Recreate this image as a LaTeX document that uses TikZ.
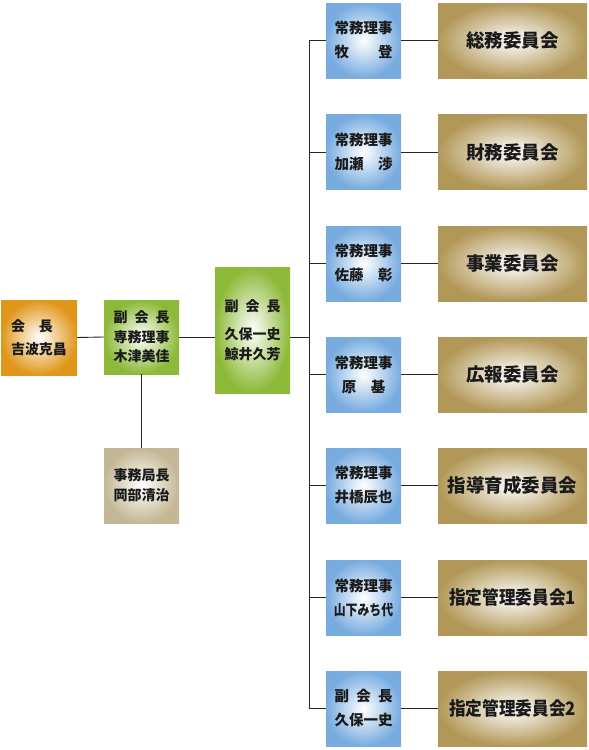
\documentclass[tikz,border=0pt]{standalone}
\usepackage{fontspec}
\setmainfont{Noto Sans CJK JP}
\definecolor{cOrange}{HTML}{E0961A}
\definecolor{cGreen}{HTML}{8CB937}
\definecolor{cBlue}{HTML}{78ACE0}
\definecolor{cGold}{HTML}{B29858}
\definecolor{cTan}{HTML}{C3B795}
\definecolor{cText}{HTML}{1A1A1A}
\begin{document}
\begin{tikzpicture}[x=1pt,y=-1pt,
  box/.style={shade, inner color=white, inner sep=0pt, text=cText, align=center, font=\bfseries},
  sq/.style={box, minimum width=75pt, minimum height=75pt},
  bluebox/.style={sq, outer color=cBlue, font=\bfseries\fontsize{14.5}{24}\selectfont},
  goldbox/.style={box, outer color=cGold, minimum width=149pt, minimum height=75pt, font=\bfseries\fontsize{18.5}{22}\selectfont},
  conn/.style={line width=0.9pt, draw=black!85}]
\useasboundingbox (0,0) rectangle (589,750);

\node[sq, minimum width=76pt, outer color=cOrange, font=\bfseries\fontsize{14}{23}\selectfont] (kaicho) at (39,337.5)
  {\makebox[4em][l]{会　長}\\吉波克昌};
\node[sq, minimum height=74pt, outer color=cGreen, font=\bfseries\fontsize{14}{19.5}\selectfont] (fuku1) at (141.5,337)
  {副\hspace{0.5em}会\hspace{0.5em}長\\専務理事\\木津美佳};
\node[sq, minimum height=126pt, outer color=cGreen, font=\bfseries\fontsize{14}{20}\selectfont] (fuku2) at (252.5,330)
  {副\hspace{0.5em}会\hspace{0.5em}長\\[8pt]久保一史\\鯨井久芳};
\node[sq, outer color=cTan, font=\bfseries\fontsize{14}{20}\selectfont] (jimu) at (141.5,485.5)
  {事務局長\\岡部清治};

\node[bluebox] (b1) at (363.5,40.5) {常務理事\\牧　　登};
\node[bluebox] (b2) at (363.5,152) {常務理事\\加瀬　渉};
\node[bluebox] (b3) at (363.5,263.5) {常務理事\\佐藤　彰};
\node[bluebox] (b4) at (363.5,374.5) {常務理事\\原　基};
\node[bluebox] (b5) at (363.5,485.5) {常務理事\\井橋辰也};
\node[bluebox] (b6) at (363.5,597.5) {常務理事\\\scalebox{0.82}[1]{山下みち代}};
\node[bluebox] (b7) at (363.5,708.5) {副\hspace{0.5em}会\hspace{0.5em}長\\久保一史};

\node[goldbox] (g1) at (512.5,40.5) {総務委員会};
\node[goldbox] (g2) at (512.5,152) {財務委員会};
\node[goldbox] (g3) at (512.5,263.5) {事業委員会};
\node[goldbox] (g4) at (512.5,374.5) {広報委員会};
\node[goldbox] (g5) at (512.5,485.5) {指導育成委員会};
\node[goldbox] (g6) at (512.5,597.5) {\scalebox{0.9}[1]{指定管理委員会1}};
\node[goldbox] (g7) at (512.5,708.5) {\scalebox{0.9}[1]{指定管理委員会2}};

\coordinate (tx) at (309,337.5);
\draw[conn] (kaicho.east) -- (fuku1.west);
\draw[conn] (fuku1.east) -- (fuku1.east -| fuku2.west);
\draw[conn] (fuku1.south) -- (jimu.north);
\draw[conn] (fuku2.east |- tx) -- (tx);
\draw[conn] (b1.west -| tx) -- (b7.west -| tx);
\foreach \i in {1,...,7}{
  \draw[conn] (b\i.west -| tx) -- (b\i.west);
  \draw[conn] (b\i.east) -- (g\i.west);
}
\end{tikzpicture}
\end{document}
